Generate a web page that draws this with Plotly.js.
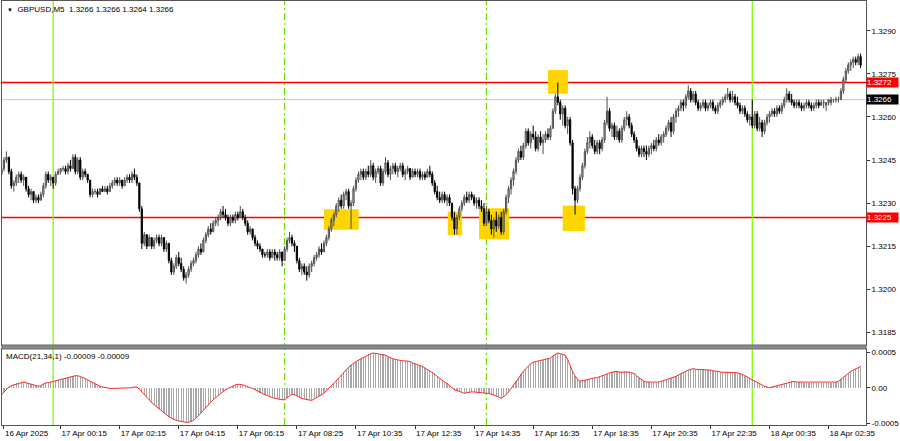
<!DOCTYPE html>
<html><head><meta charset="utf-8">
<script src="https://cdn.plot.ly/plotly-3.0.1.min.js"></script>
<style>html,body{margin:0;padding:0;background:#fff;}#chart{width:900px;height:441px;}</style>
</head><body><div id="chart"></div>
<script>
// Prices are stored in pips above BASE (1 pip = 0.0001)
const BASE = 1.3200;
const openPips = [
40,42,45,46,41,36,37,39,40,38, 39,35,33,34,31,32,31,33,36,40, 38,39,37,40,41,42,42,41,43,42,
46,41,45,39,41,40,38,33,34,34, 33,35,34,35,34,36,37,38,37,38, 36,38,39,38,40,39,37,28,16,19,
15,18,15,17,18,16,18,14,16,10, 6,8,11,9,7,4,5,7,9,10, 12,14,13,17,19,21,20,23,24,25,
27,26,25,23,25,24,26,25,27,25, 23,20,21,18,16,15,14,12,12,13, 11,13,12,11,13,10,14,17,18,16,
15,10,7,8,6,5,8,9,11,12, 14,13,16,18,21,24,26,29,31,29, 33,34,29,30,35,38,40,41,39,41,
40,43,39,41,42,37,41,44,40,42, 43,41,42,43,40,41,42,39,41,40, 41,39,40,39,41,40,37,34,32,31,
33,31,32,30,25,21,25,28,30,32, 31,33,32,30,31,29,28,23,27,24, 21,24,22,25,20,27,32,35,38,41,
45,48,46,50,55,51,54,53,49,53, 51,52,54,53,56,62,67,65,61,63, 57,59,51,35,31,35,39,43,48,51,
53,50,48,51,49,52,58,62,56,57, 53,55,52,56,59,60,57,54,52,49, 47,49,48,47,49,50,49,52,51,53,
54,56,58,55,60,62,63,65,64,67, 69,66,68,65,63,64,65,63,64,65, 63,62,64,65,66,67,68,66,67,65,
64,62,63,61,59,60,57,61,56,58, 55,58,60,61,62,61,63,62,64,66, 68,66,65,64,65,64,63,64,65,64,
63,64,65,64,65,64,65,65,66,66, 66,66,69,73,76,78,79,80,79,81];
const highPips = [
44,46,48,46,42,38,40,41,41,40, 39,36,35,34,33,33,34,37,41,41, 40,39,41,42,42,43,43,44,45,47,
47,46,46,42,42,40,38,35,35,35, 35,36,36,36,37,38,39,39,39,38, 39,40,40,41,42,40,37,29,20,19,
19,18,18,19,19,19,18,17,16,11, 9,12,13,11,8,6,8,10,11,13, 15,16,18,20,22,23,24,25,26,28,
29,28,26,26,26,27,27,29,28,26, 24,22,21,19,17,16,14,13,14,14, 14,14,13,14,13,15,18,20,19,17,
15,11,9,9,8,9,10,12,13,15, 16,17,19,22,25,27,30,32,33,34, 35,35,31,36,39,41,42,42,42,43,
45,44,42,43,43,42,46,45,43,44, 44,43,44,44,42,43,42,42,42,42, 42,41,41,42,43,41,38,36,34,34,
34,33,33,30,27,26,29,31,33,34, 34,34,33,32,32,31,30,29,28,26, 25,27,26,27,28,33,36,39,42,46,
49,50,51,56,56,55,57,55,54,55, 54,55,56,57,63,68,72,66,64,64, 60,60,52,36,36,40,44,49,53,55,
54,52,52,52,53,59,67,63,58,58, 57,56,57,60,62,61,58,55,53,50, 50,50,50,50,51,52,53,54,54,55,
57,59,60,61,63,64,66,66,68,71, 70,69,69,66,65,66,66,65,66,66, 64,65,66,67,68,70,69,69,68,67,
65,64,64,62,61,66,62,62,60,59, 59,61,62,63,63,64,64,65,67,70, 69,68,66,66,66,65,65,66,66,65,
65,66,66,66,66,65,66,67,66,67, 67,70,74,77,79,80,81,81,82,82];
const lowPips = [
39,41,44,40,35,34,36,37,37,36, 34,32,31,30,30,30,31,32,35,37, 36,35,36,40,40,41,40,40,41,42,
40,40,38,38,39,37,32,32,33,32, 33,34,34,33,34,35,36,36,36,35, 36,37,37,37,38,36,27,14,15,14,
15,14,14,16,15,15,13,13,9,5, 5,7,8,6,3,2,4,6,8,9, 11,12,13,16,18,19,20,22,22,24,
25,24,22,22,23,23,24,25,24,22, 19,19,17,15,14,13,11,11,11,10, 11,10,10,10,8,10,13,16,15,13,
9,6,5,5,3,4,6,8,10,11, 12,13,15,17,20,22,25,27,28,28, 31,28,21,29,34,37,38,38,38,39,
39,38,37,40,36,36,40,39,38,40, 40,39,41,39,38,40,38,39,39,39, 38,38,38,39,39,36,33,31,30,30,
30,29,29,24,19,19,24,27,29,30, 30,31,29,28,28,27,22,22,23,19, 18,20,21,19,19,26,30,33,36,40,
44,45,45,49,50,49,52,48,48,50, 47,51,52,52,56,61,64,59,57,56, 54,50,33,26,30,34,38,42,47,49,
49,47,47,47,48,51,57,55,53,52, 52,51,51,55,57,56,53,51,48,46, 46,46,45,46,47,48,48,50,50,51,
53,55,53,54,58,60,62,62,63,66, 65,65,64,62,62,63,62,62,63,62, 61,61,63,64,65,66,65,65,64,63,
61,61,60,58,57,56,56,55,55,53, 54,57,58,60,60,60,61,61,63,65, 65,64,63,63,63,62,62,63,63,62,
62,63,63,64,63,62,64,64,65,65, 65,66,68,72,75,76,77,78,78,77];
const closePips = [
42,45,46,41,36,37,39,40,38,39, 35,33,34,31,32,31,33,36,40,38, 39,37,40,41,42,42,41,43,42,46,
41,45,39,41,40,38,33,34,34,33, 35,34,35,34,36,37,38,37,38,36, 38,39,38,40,39,37,28,16,19,15,
18,15,17,18,16,18,14,16,10,6, 8,11,9,7,4,5,7,9,10,12, 14,13,17,19,21,20,23,24,25,27,
26,25,23,25,24,26,25,27,25,23, 20,21,18,16,15,14,12,12,13,11, 13,12,11,13,10,14,17,18,16,15,
10,7,8,6,5,8,9,11,12,14, 13,16,18,21,24,26,29,31,29,33, 34,29,30,35,38,40,41,39,41,40,
43,39,41,42,37,41,44,40,42,43, 41,42,43,40,41,42,39,41,40,41, 39,40,39,41,40,37,34,32,31,33,
31,32,30,25,21,25,28,30,32,31, 33,32,30,31,29,28,23,27,24,21, 24,22,25,20,27,32,35,38,41,45,
48,46,50,55,51,54,53,49,53,51, 52,54,53,56,62,67,65,61,63,57, 59,51,35,31,35,39,43,48,51,53,
50,48,51,49,52,58,62,56,57,53, 55,52,56,59,60,57,54,52,49,47, 49,48,47,49,50,49,52,51,53,54,
56,58,55,60,62,63,65,64,67,69, 66,68,65,63,64,65,63,64,65,63, 62,64,65,66,67,68,66,67,65,64,
62,63,61,59,60,57,61,56,58,55, 58,60,61,62,61,63,62,64,66,68, 66,65,64,65,64,63,64,65,64,63,
64,65,64,65,65,65,66,66,66,66, 66,69,73,76,78,79,80,79,81,78];
// MACD(21,34,1) main value per bar, in units of 0.00001
const macdUnits = [
-10,-6,-2,1,3,4,6,7,8,8, 7,6,5,4,3,2,3,5,7,7, 8,9,10,11,12,13,14,15,16,16,
17,17,16,15,13,11,9,7,5,3, 2,1,0,0,-1,-1,-1,-1,-1,-1, -1,-1,0,0,1,1,-2,-6,-10,-13,
-17,-21,-24,-27,-30,-33,-36,-39,-41,-43, -45,-46,-47,-48,-48,-49,-49,-48,-46,-43, -40,-36,-32,-28,-24,-20,-17,-14,-11,-8,
-5,-3,-1,1,3,4,5,5,4,3, 1,0,-1,-3,-5,-7,-8,-10,-11,-13, -14,-15,-16,-16,-17,-17,-14,-11,-9,-10,
-12,-14,-15,-16,-17,-18,-18,-16,-14,-12, -10,-8,-4,0,3,6,10,14,18,22, 26,29,32,35,37,39,41,43,45,47,
48,49,49,48,47,47,46,44,42,41, 40,39,39,38,38,38,37,35,34,32, 31,30,28,26,24,22,19,16,13,10,
8,6,3,0,-3,-4,-5,-6,-8,-7, -6,-6,-6,-7,-7,-7,-8,-8,-8,-9, -10,-12,-13,-15,-13,-10,-6,-1,4,9,
14,19,23,27,31,34,36,37,38,39, 39,40,41,42,45,47,49,48,47,46, 40,31,23,17,12,9,10,11,12,13,
13,14,14,16,17,18,20,21,22,23, 23,22,22,23,23,22,21,20,17,14, 11,9,8,8,7,7,7,8,9,10,
11,12,14,15,16,18,20,21,23,25, 26,27,26,26,26,25,25,25,25,24, 24,23,22,22,22,22,22,22,22,21,
20,19,17,15,13,11,9,7,5,3, 2,1,0,1,2,3,3,4,5,7, 8,9,9,8,8,8,7,7,7,7,
7,7,7,7,7,7,7,7,7,8, 9,12,15,18,21,23,25,27,29,30];

const timeTickBars = [1,24,48,72,96,120,144,168,192,216,240,264,288,312,336];
const timeTickLabels = ["16 Apr 2025","17 Apr 00:15","17 Apr 02:15","17 Apr 04:15","17 Apr 06:15","17 Apr 08:25","17 Apr 10:35","17 Apr 12:35","17 Apr 14:35","17 Apr 16:35","17 Apr 18:35","17 Apr 20:35","17 Apr 22:35","18 Apr 00:35","18 Apr 02:35"];
const priceTicks = [1.3185,1.3200,1.3215,1.3230,1.3245,1.3260,1.3275,1.3290];
const macdTicks = [0.0005,0,-0.0005];
const macdTickLabels = ["0.0005","0.00","-0.0005"];

const levelPrices = [1.3272,1.3225];
const levelLabels = ["1.3272","1.3225"];
const bidPrice = 1.3266;
const bidLabel = "1.3266";
const dayStartBars = [21,305];
const sessionBars = [115,197];
const zoneBarStart = [131,181.3,194,222,228];
const zoneBarEnd   = [145.1,187.1,206.2,230.1,237];
const zoneLow  = [1.32207,1.32188,1.32174,1.32681,1.32203];
const zoneHigh = [1.32279,1.32270,1.32282,1.32763,1.32291];

const titleText = "GBPUSD,M5  1.3266 1.3266 1.3264 1.3266";
const macdText = "MACD(21,34,1) -0.00009 -0.00009";

const toPrice = p => BASE + p/10000;
const bars = closePips.map((_,i)=>i);

const FONT = {family:'Liberation Sans, Arial, sans-serif', size:8, color:'#000'};
const XR = [0.2, 351.2];
const MAIN_BOTTOM = 0.18868, MACD_TOP = 0.17925;

const traces = [
  {type:'candlestick', x:bars, open:openPips.map(toPrice), high:highPips.map(toPrice),
   low:lowPips.map(toPrice), close:closePips.map(toPrice), xaxis:'x', yaxis:'y',
   increasing:{line:{color:'#505050',width:1}, fillcolor:'#b8b8b8'},
   decreasing:{line:{color:'#000000',width:1}, fillcolor:'#000000'},
   whiskerwidth:0, hoverinfo:'skip', showlegend:false},
  {type:'bar', x:bars, y:macdUnits.map(v=>v/100000), xaxis:'x2', yaxis:'y2',
   marker:{color:'#a9a9a9', line:{width:0}}, width:0.5, hoverinfo:'skip', showlegend:false},
  {type:'scatter', mode:'lines', x:bars, y:macdUnits.map(v=>v/100000), xaxis:'x2', yaxis:'y2',
   line:{color:'#ff2a2a', width:1}, hoverinfo:'skip', showlegend:false}
];

const shapes = [];
zoneBarStart.forEach((x0,i)=>shapes.push({type:'rect', xref:'x', yref:'y', x0:x0, x1:zoneBarEnd[i],
  y0:zoneLow[i], y1:zoneHigh[i], fillcolor:'#ffd500', line:{width:0}, layer:'below'}));
shapes.push({type:'line', xref:'paper', yref:'y', x0:0, x1:1, y0:bidPrice, y1:bidPrice,
  line:{color:'#c8c8c8', width:1}, layer:'below'});
levelPrices.forEach(p=>shapes.push({type:'line', xref:'paper', yref:'y', x0:0, x1:1, y0:p, y1:p,
  line:{color:'#ff0000', width:1.5}, layer:'below'}));
dayStartBars.forEach(b=>shapes.push({type:'line', xref:'x', yref:'paper', x0:b, x1:b, y0:0, y1:1,
  line:{color:'#7cfc00', width:1.3}, layer:'below'}));
sessionBars.forEach(b=>shapes.push({type:'line', xref:'x', yref:'paper', x0:b, x1:b, y0:0, y1:1,
  line:{color:'#66e000', width:1.2, dash:'7px,3px,2px,3px'}, layer:'below'}));
shapes.push({type:'rect', xref:'paper', yref:'paper', x0:0, x1:1, y0:MACD_TOP, y1:MAIN_BOTTOM,
  fillcolor:'#8a8a8a', line:{color:'#6a6a6a', width:1}, layer:'above'});

const annotations = [
  {xref:'paper', yref:'paper', x:0, y:1, xanchor:'left', yanchor:'top', xshift:3, yshift:-2,
   text:'<span style="font-size:6px">▼</span>  '+titleText, showarrow:false, font:FONT, align:'left'},
  {xref:'paper', yref:'paper', x:0, y:MACD_TOP, xanchor:'left', yanchor:'top', xshift:2, yshift:-1,
   text:macdText, showarrow:false, font:FONT, align:'left'}
];
levelPrices.forEach((p,i)=>annotations.push({xref:'paper', yref:'y', x:1, y:p, xanchor:'left', yanchor:'middle',
  text:levelLabels[i], showarrow:false, bgcolor:'#ff0000', font:{family:FONT.family,size:8,color:'#fff'},
  width:31, height:9, borderpad:0, align:'left'}));
annotations.push({xref:'paper', yref:'y', x:1, y:bidPrice, xanchor:'left', yanchor:'middle',
  text:bidLabel, showarrow:false, bgcolor:'#000', font:{family:FONT.family,size:8,color:'#fff'},
  width:31, height:9, borderpad:0, align:'left'});

const axisBase = {showgrid:false, zeroline:false, showline:true, mirror:true, linecolor:'#555', linewidth:1,
  tickfont:FONT, ticks:'outside', ticklen:3, tickcolor:'#333', fixedrange:true};

const layout = {
  width:900, height:441, margin:{l:2, r:34, t:1, b:16},
  paper_bgcolor:'#fff', plot_bgcolor:'#fff', showlegend:false, bargap:0,
  font:FONT,
  xaxis:Object.assign({}, axisBase, {domain:[0,1], range:XR, anchor:'y', showticklabels:false, ticks:'',
    rangeslider:{visible:false}}),
  xaxis2:Object.assign({}, axisBase, {domain:[0,1], range:XR, anchor:'y2',
    tickmode:'array', tickvals:timeTickBars, ticktext:timeTickLabels, ticklabelposition:'outside right'}),
  yaxis:Object.assign({}, axisBase, {domain:[MAIN_BOTTOM,1], range:[1.318061,1.330034], side:'right', anchor:'x',
    tickmode:'array', tickvals:priceTicks, ticktext:priceTicks.map(v=>v.toFixed(4))}),
  yaxis2:Object.assign({}, axisBase, {domain:[0,MACD_TOP], range:[-0.000527,0.000547], side:'right', anchor:'x2',
    tickmode:'array', tickvals:macdTicks, ticktext:macdTickLabels}),
  shapes:shapes, annotations:annotations
};

Plotly.newPlot('chart', traces, layout, {displayModeBar:false, staticPlot:true});
</script>
</body></html>
